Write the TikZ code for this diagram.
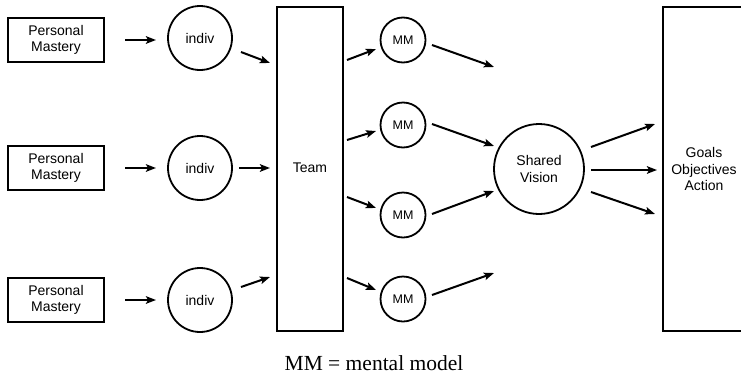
\documentclass[tikz,border=0pt]{standalone}
\usepackage{fontspec}
\setmainfont{Liberation Serif}
\setsansfont{Liberation Sans}
\usetikzlibrary{arrows.meta}
\begin{document}
\begin{tikzpicture}[x=1pt,y=-1pt,
  lbl/.style={font=\sffamily\fontsize{14}{16.5}\selectfont, align=center, inner sep=0pt},
  pmbox/.style={lbl, draw, line width=2pt, minimum width=96pt, minimum height=44pt},
  indivc/.style={lbl, draw, circle, line width=1.8pt, minimum size=64pt},
  mmc/.style={lbl, draw, circle, line width=1.8pt, minimum size=45pt, font=\sffamily\fontsize{12.5}{14}\selectfont},
  bigbox/.style={draw, line width=1.6pt},
  arr/.style={line width=2pt, -{Stealth[length=10pt,width=7.5pt,inset=2pt]}}
]
\useasboundingbox (0,0) rectangle (741,378);
\clip (0,0) rectangle (741,378);
\fill[white] (0,0) rectangle (741,378);

% Personal Mastery boxes
\node[pmbox] (pm1) at (56,40) {Personal\\Mastery};
\node[pmbox] (pm2) at (56,168) {Personal\\Mastery};
\node[pmbox] (pm3) at (56,300) {Personal\\Mastery};

% indiv circles
\node[indivc] (in1) at (200,38) {indiv};
\node[indivc] (in2) at (200,168) {indiv};
\node[indivc] (in3) at (200,300) {indiv};

% Team
\node[bigbox, minimum width=66pt, minimum height=324pt] (team) at (310,169) {};
\node[lbl] (teamt) at (310,168) {Team};

% MM circles
\node[mmc] (mm1) at (403,40) {MM};
\node[mmc] (mm2) at (403,125) {MM};
\node[mmc] (mm3) at (403,215) {MM};
\node[mmc] (mm4) at (403,299) {MM};

% Shared Vision
\node[lbl, draw, circle, line width=1.8pt, minimum size=90pt] (sv) at (539,169) {Shared\\Vision};

% Goals box (right edge outside picture)
\node[bigbox, minimum width=140pt, minimum height=324pt] (goals) at (733,169) {};
\node[lbl] (goalst) at (704,169) {Goals\\Objectives\\Action};

% arrow end points
\coordinate (a1s) at (125,40);  \coordinate (a1e) at (156,40);
\coordinate (a2s) at (125,168); \coordinate (a2e) at (156,168);
\coordinate (a3s) at (125,300); \coordinate (a3e) at (156,300);
\coordinate (b1s) at (241,52);  \coordinate (b1e) at (270,63);
\coordinate (b2s) at (239,168); \coordinate (b2e) at (270,168);
\coordinate (b3s) at (241,287); \coordinate (b3e) at (270,277);
\coordinate (c1s) at (347,60);  \coordinate (c1e) at (376,49);
\coordinate (c2s) at (347,140); \coordinate (c2e) at (376,131);
\coordinate (c3s) at (347,197); \coordinate (c3e) at (376,208);
\coordinate (c4s) at (347,278); \coordinate (c4e) at (376,290);
\coordinate (d1s) at (432,45);  \coordinate (d1e) at (494,67);
\coordinate (d2s) at (432,124); \coordinate (d2e) at (494,146);
\coordinate (d3s) at (432,214); \coordinate (d3e) at (494,191);
\coordinate (d4s) at (432,295); \coordinate (d4e) at (494,273);
\coordinate (e1s) at (591,147); \coordinate (e1e) at (655,124);
\coordinate (e2s) at (591,170); \coordinate (e2e) at (657,170);
\coordinate (e3s) at (591,192); \coordinate (e3e) at (655,214);

\foreach \p in {a1,a2,a3,b1,b2,b3,c1,c2,c3,c4,d1,d2,d3,d4,e1,e2,e3}
  \draw[arr] (\p s) -- (\p e);

% legend
\node[font=\fontsize{21.5}{24}\selectfont, inner sep=0pt] (legend) at (374,363) {MM = mental model};
\end{tikzpicture}
\end{document}
